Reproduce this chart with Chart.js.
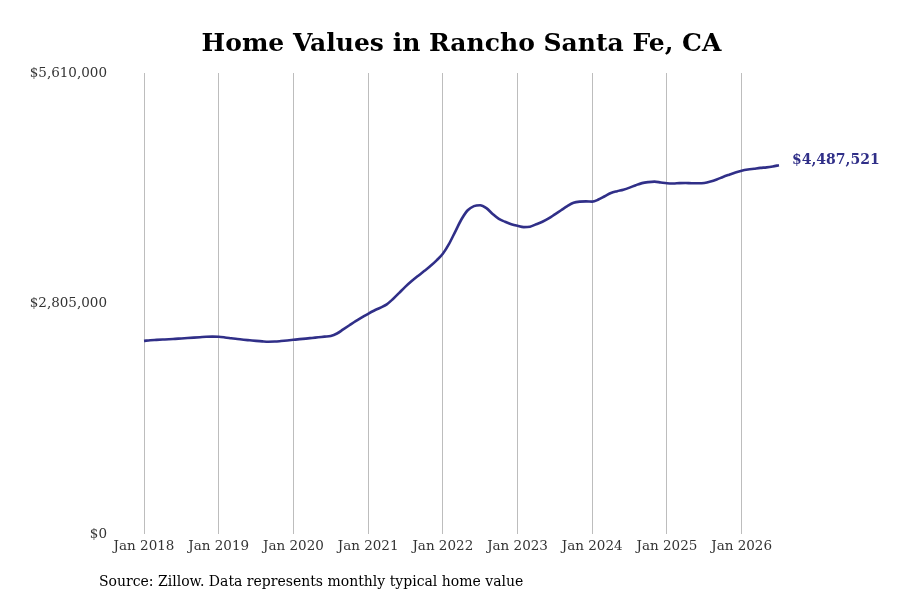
<!DOCTYPE html>
<html>
<head>
<meta charset="utf-8">
<script src="https://cdn.jsdelivr.net/npm/chart.js@4.4.0/dist/chart.umd.min.js"></script>
<style>
html,body{margin:0;padding:0;background:#fff;}
#wrap{width:900px;height:600px;position:relative;}
</style>
</head>
<body>
<div id="wrap"><canvas id="c" width="900" height="600"></canvas></div>
<script>
const titleText = "Home Values in Rancho Santa Fe, CA";
const sourceText = "Source: Zillow. Data represents monthly typical home value";
const startYear = 2018;
const yTicks = [0, 2805000, 5610000];
const values2018 = [2350000,2358000,2362000,2366000,2370000,2375000,2380000,2385000,2390000,2395000,2400000,2402000];
const values2019 = [2400000,2392000,2382000,2372000,2364000,2357000,2350000,2344000,2340000,2342000,2348000,2355000];
const values2020 = [2363000,2371000,2378000,2386000,2394000,2402000,2410000,2440000,2490000,2540000,2590000,2635000];
const values2021 = [2680000,2720000,2755000,2795000,2860000,2935000,3010000,3078000,3140000,3200000,3260000,3330000];
const values2022 = [3410000,3530000,3680000,3830000,3940000,3990000,4000000,3965000,3895000,3835000,3800000,3770000];
const values2023 = [3750000,3735000,3740000,3770000,3800000,3840000,3890000,3940000,3990000,4030000,4045000,4048000];
const values2024 = [4045000,4070000,4110000,4150000,4172000,4190000,4215000,4245000,4270000,4282000,4288000,4278000];
const values2025 = [4268000,4265000,4270000,4272000,4268000,4268000,4272000,4290000,4315000,4345000,4372000,4398000];
const values2026 = [4420000,4435000,4445000,4455000,4462000,4473000,4487521];
const values = [].concat(values2018, values2019, values2020, values2021, values2022, values2023, values2024, values2025, values2026);
const monthNames = ["Jan","Feb","Mar","Apr","May","Jun","Jul","Aug","Sep","Oct","Nov","Dec"];
const labels = values.map((v, i) => monthNames[i % 12] + " " + (startYear + Math.floor(i / 12)));

const lineColor = "#302f88";
const serif = "'DejaVu Serif', serif";

const decor = {
  id: 'decor',
  afterDraw(chart) {
    const ctx = chart.ctx;
    const a = chart.chartArea;
    ctx.save();
    ctx.fillStyle = "#000";
    ctx.font = "bold 25px " + serif;
    ctx.textAlign = "center";
    ctx.textBaseline = "middle";
    ctx.fillText(titleText, (a.left + a.right) / 2, 44);
    ctx.font = "14px " + serif;
    ctx.textAlign = "left";
    ctx.fillText(sourceText, 99, 582);
    const meta = chart.getDatasetMeta(0);
    const last = meta.data[meta.data.length - 1];
    const v = values[values.length - 1];
    ctx.fillStyle = lineColor;
    ctx.font = "bold 14px " + serif;
    ctx.fillText("$" + v.toLocaleString("en-US"), last.x + 13, last.y - 5);
    ctx.restore();
  }
};

new Chart(document.getElementById('c'), {
  type: 'line',
  data: {
    labels: labels,
    datasets: [{
      data: values,
      borderColor: lineColor,
      borderWidth: 2.6,
      pointRadius: 0,
      tension: 0.4,
      cubicInterpolationMode: 'monotone',
      fill: false
    }]
  },
  options: {
    responsive: false,
    animation: false,
    layout: { padding: { top: 73, right: 121, bottom: 0, left: 0 } },
    plugins: { legend: { display: false }, tooltip: { enabled: false }, title: { display: false } },
    scales: {
      x: {
        type: 'category',
        offset: false,
        afterFit(s) { s.height = 66; },
        grid: { display: true, color: "#bdbdbd", lineWidth: 1, drawTicks: false },
        border: { display: false },
        ticks: {
          autoSkip: false,
          maxRotation: 0,
          padding: 4,
          color: "#333",
          font: { family: serif, size: 13.5 },
          callback(val) {
            const l = labels[val];
            return l.startsWith("Jan") ? l : null;
          }
        }
      },
      y: {
        min: yTicks[0],
        max: yTicks[yTicks.length - 1],
        afterFit(s) { s.width = 144; },
        afterBuildTicks(s) { s.ticks = yTicks.map(v => ({ value: v })); },
        grid: { display: false, drawTicks: false },
        border: { display: false },
        ticks: {
          padding: 37,
          color: "#333",
          font: { family: serif, size: 13.5 },
          callback(v) { return "$" + Number(v).toLocaleString("en-US"); }
        }
      }
    }
  },
  plugins: [decor]
});
</script>
</body>
</html>
